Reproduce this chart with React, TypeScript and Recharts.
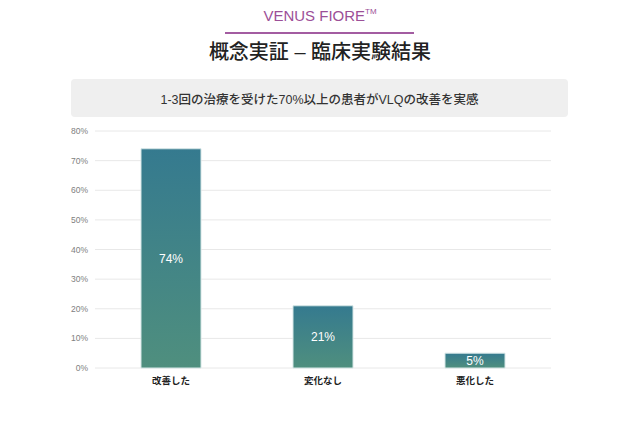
import React from 'react'
import { BarChart, Bar, XAxis, YAxis, CartesianGrid, LabelList } from 'recharts'

const categories = ['改善した', '変化なし', '悪化した']
const percents = [74, 21, 5]
const yTicks = [0, 10, 20, 30, 40, 50, 60, 70, 80]

const data = categories.map((name, i) => ({ name, value: percents[i] }))

const latin = "'Liberation Sans', 'Noto Sans CJK JP', sans-serif"

export default function App() {
  return (
    <div style={{ position: 'absolute', left: 0, top: 0, width: 640, height: 432, background: '#fff', fontFamily: latin }}>
      <div style={{ position: 'absolute', left: 0, width: 640, top: 7, textAlign: 'center', fontSize: 15, color: '#9c4f98', lineHeight: '18px' }}>
        VENUS FIORE<sup style={{ fontSize: 8, verticalAlign: 'top', lineHeight: '8px', position: 'relative', top: 1 }}>TM</sup>
      </div>
      <div style={{ position: 'absolute', left: 225, top: 32, width: 189, height: 2, background: '#a35ca1' }} />
      <div style={{ position: 'absolute', left: 0, width: 640, top: 39, textAlign: 'center', fontSize: 20, fontWeight: 500, color: '#222', lineHeight: '26px' }}>
        概念実証 – 臨床実験結果
      </div>
      <div style={{ position: 'absolute', left: 71, top: 79, width: 497, height: 38, background: '#efefef', borderRadius: 4, display: 'flex', alignItems: 'center', justifyContent: 'center', fontSize: 12.5, fontWeight: 500, color: '#333' }}>
        1-3回の治療を受けた70%以上の患者がVLQの改善を実感
      </div>
      <div style={{ position: 'absolute', left: 0, top: 0 }}>
        <BarChart width={640} height={432} data={data} margin={{ top: 131, right: 89, bottom: 34, left: 65 }}>
          <defs>
            <linearGradient id="barGrad" x1="0" y1="0" x2="0" y2="1">
              <stop offset="0%" stopColor="#357a8f" />
              <stop offset="100%" stopColor="#4f8f7e" />
            </linearGradient>
          </defs>
          <CartesianGrid vertical={false} stroke="#e8e8e8" />
          <XAxis dataKey="name" height={30} axisLine={false} tickLine={false} tickSize={0} tickMargin={9}
            tick={{ fontSize: 9.5, fontWeight: 700, fill: '#222', fontFamily: latin }} />
          <YAxis width={30} domain={[0, 80]} ticks={yTicks} axisLine={false} tickLine={false} tickSize={0} tickMargin={7}
            tickFormatter={(v: number) => `${v}%`}
            tick={{ fontSize: 8.5, fill: '#808080', fontFamily: latin }} />
          <Bar dataKey="value" barSize={60} fill="url(#barGrad)" stroke="#d5e6e6" strokeWidth={1} isAnimationActive={false}>
            <LabelList dataKey="value" position="center" formatter={(v: number) => `${v}%`}
              style={{ fill: '#fff', fontSize: 12, fontFamily: latin }} />
          </Bar>
        </BarChart>
      </div>
    </div>
  )
}
